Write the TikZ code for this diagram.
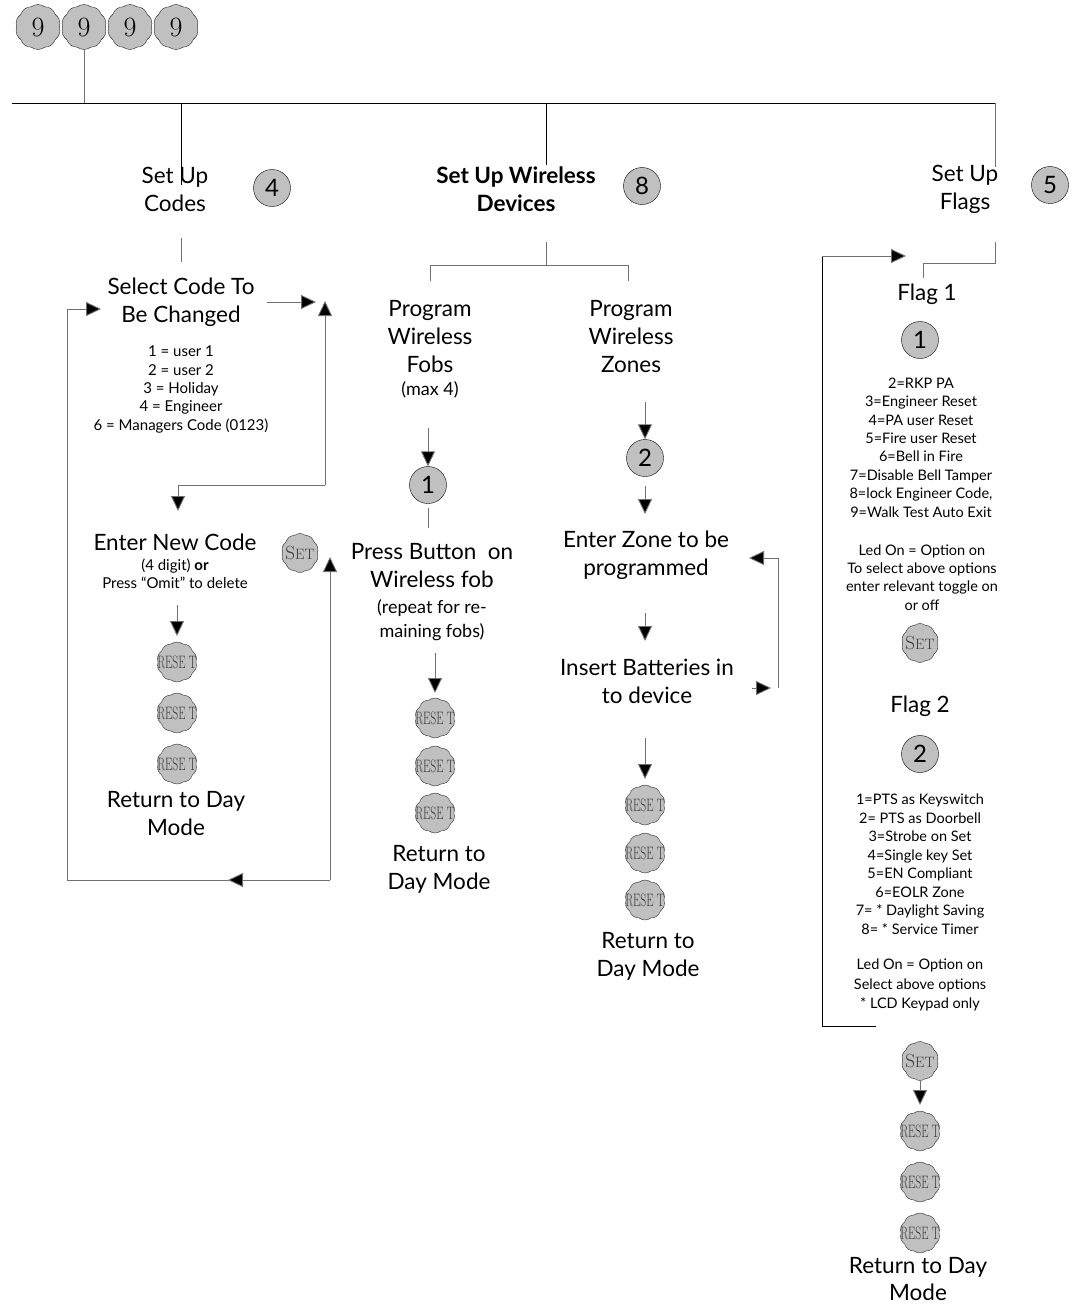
\documentclass[tikz,border=0pt]{standalone}
\usepackage{fontspec}
\usepackage{graphicx}
\setsansfont{Lato}
\usetikzlibrary{shapes.symbols,arrows.meta}
\definecolor{btngray}{HTML}{C0C0C0}
\definecolor{linegray}{HTML}{707070}
\definecolor{txtgray}{HTML}{3A3A3A}
\newcommand{\resettxt}{\makebox[0pt]{\color{txtgray}\scalebox{0.64}[1]{\fontsize{18}{18}\selectfont RESE T}}}
\newcommand{\settxt}{\makebox[0pt]{\color{txtgray}{\fontsize{19}{19}\selectfont S}{\fontsize{15}{15}\selectfont ET}}}
\begin{document}
\begin{tikzpicture}[x=1pt,y=-1pt,
  big/.style={font=\sffamily\fontsize{22.5}{28}\selectfont, align=center, inner sep=0},
  bigbold/.style={font=\sffamily\bfseries\fontsize{22.5}{28}\selectfont, align=center, inner sep=0},
  mid/.style={font=\sffamily\fontsize{18}{24}\selectfont, align=center, inner sep=0},
  small/.style={font=\sffamily\fontsize{15}{18.3}\selectfont, align=center, inner sep=0},
  flist/.style={font=\sffamily\fontsize{14.5}{18.4}\selectfont, align=center, inner sep=0},
  numc/.style={circle, draw=black, fill=btngray, minimum size=37pt, inner sep=0, font=\sffamily\fontsize{24}{24}\selectfont},
  bump/.style={cloud, cloud puffs=10, cloud puff arc=75, aspect=1, draw=black!85, fill=btngray, inner sep=0, minimum width=40pt, minimum height=40pt, font=\rmfamily},
  keyb/.style={bump, minimum width=45pt, minimum height=45pt, font=\rmfamily\fontsize{28}{28}\selectfont},
  setb/.style={bump, minimum width=37pt, minimum height=39pt},
  ln/.style={draw=black, line width=0.9pt},
  gl/.style={draw=linegray, line width=0.9pt},
  arr/.style={draw=linegray, line width=0.9pt, -{Triangle[length=15pt,width=14pt,fill=black]}}
]
\useasboundingbox (0,0) rectangle (1080,1306);

% ---------- top keys ----------
\node[keyb] (k1) at (38,27) {9};
\node[keyb] (k2) at (84,27) {9};
\node[keyb] (k3) at (130,27) {9};
\node[keyb] (k4) at (176,27) {9};
\coordinate (busL) at (12,103);
\coordinate (busR) at (995,103);
\draw[ln] (busL) -- (busR);
\draw[gl] (k2.south) -- (k2.south |- busL);

% ---------- headers ----------
\node[big] (codes) at (175,189) {Set Up\\Codes};
\node[numc] (n4) at (272,188) {4};
\node[bigbold] (wireless) at (516,189) {Set Up Wireless\\Devices};
\node[numc] (n8) at (642,186) {8};
\node[big] (flags) at (965,189) {Set Up\\Flags};
\node[numc] (n5) at (1050,185) {5};
\coordinate (dA) at (181,185);
\coordinate (dB) at (546,165);
\coordinate (dC) at (995,167);
\draw[ln] (dA |- busL) -- (dA);
\draw[ln] (dB |- busL) -- (dB);
\draw[gl] (busR) -- (dC);

% ---------- codes column ----------
\coordinate (cs1) at (181,238);
\coordinate (cs2) at (181,262);
\draw[gl] (cs1) -- (cs2);
\node[big] (selcode) at (181,302) {Select Code To\\Be Changed};
\node[small] (codelist) at (181,389.5) {1 = user 1\\2 = user 2\\3 = Holiday\\4 = Engineer\\6 = Managers Code (0123)};
\coordinate (ra1) at (267,302);
\coordinate (ra2) at (316,302);
\draw[arr] (ra1) -- (ra2);
\coordinate (up1) at (325,485);
\coordinate (up2) at (325,301);
\draw[arr] (up1) -- (up2);
\coordinate (lp1) at (178,485);
\coordinate (lp2) at (178,511);
\draw[gl] (up1) -- (lp1);
\draw[arr] (lp1) -- (lp2);
\node[big] (enter) at (175,542) {Enter New Code};
\node[small] (enter2) at (175,574) {(4 digit) \textbf{or}\\Press “Omit” to delete};
\node[setb] (set1) at (300,553) {\settxt};
\coordinate (bl) at (67,880);
\coordinate (br) at (330,880);
\coordinate (tl) at (67,309);
\coordinate (tla) at (101,309);
\coordinate (midb) at (228,880);
\coordinate (rup) at (330,557);
\draw[gl] (br) -- (bl) -- (tl);
\draw[arr] (tl) -- (tla);
\draw[arr] (br) -- (midb);
\draw[arr] (br) -- (rup);
\coordinate (ea1) at (177,605);
\draw[arr] (ea1) -- (177,636);
\node[bump] (r1a) at (177,662) {\resettxt};
\node[bump] (r1b) at (177,713) {\resettxt};
\node[bump] (r1c) at (177,764) {\resettxt};
\node[big] (ret1) at (176,814) {Return to Day\\Mode};

% ---------- wireless ----------
\coordinate (w1) at (546,242);
\coordinate (w2) at (546,265);
\coordinate (wl) at (430,265);
\coordinate (wr) at (628,265);
\draw[gl] (w1) -- (w2);
\draw[gl] (wl |- w2) -- (wr);
\draw[gl] (wl) -- (430,281);
\draw[gl] (wr) -- (628,281);

% fobs
\node[big] (fobs) at (430,337) {Program\\Wireless\\Fobs};
\node[mid] (max4) at (430,390) {(max 4)};
\coordinate (fa1) at (428,428);
\node[numc] (f1) at (428,485) {1};
\draw[arr] (fa1) -- (f1.north);
\coordinate (fl2) at (428,528);
\draw[gl] (f1.south) ++(0,4) -- (fl2);
\node[big] (press1) at (432,566) {Press Button\ \ on\\Wireless fob};
\node[mid] (press2) at (432,620) {(repeat for re-\\maining fobs)};
\coordinate (fa2) at (435,653);
\draw[arr] (fa2) -- (435,693);
\node[bump] (r2a) at (435,718) {\resettxt};
\node[bump] (r2b) at (435,766) {\resettxt};
\node[bump] (r2c) at (435,813) {\resettxt};
\node[big] (ret2) at (439,869) {Return to\\Day Mode};

% zones
\node[big] (zones) at (631,337) {Program\\Wireless\\Zones};
\coordinate (za1) at (645,402);
\node[numc] (z2) at (645,458) {2};
\draw[arr] (za1) -- (z2.north);
\coordinate (za2) at (645,486);
\draw[arr] (za2) -- (645,514);
\node[big] (enterzone) at (646,555) {Enter Zone to be\\programmed};
\coordinate (za3) at (645,613);
\draw[arr] (za3) -- (645,641);
\node[big] (insert) at (647,681) {Insert Batteries in\\to device};
\coordinate (zl1) at (752,688);
\coordinate (zl2) at (771,688);
\coordinate (zl3) at (778,688);
\coordinate (zl4) at (778,558);
\coordinate (zl5) at (749,558);
\draw[arr] (zl1) -- (zl2);
\draw[gl] (zl3) -- (zl4);
\draw[arr] (zl4) -- (zl5);
\coordinate (za4) at (645,738);
\draw[arr] (za4) -- (645,779);
\node[bump] (r3a) at (645,805) {\resettxt};
\node[bump] (r3b) at (645,853) {\resettxt};
\node[bump] (r3c) at (645,900) {\resettxt};
\node[big] (ret3) at (648,956) {Return to\\Day Mode};

% ---------- flags column ----------
\coordinate (fs1) at (995,242);
\coordinate (fs2) at (995,263);
\coordinate (fs3) at (923,263);
\coordinate (fs4) at (923,278);
\draw[gl] (fs1) -- (fs2) -- (fs3) -- (fs4);
\coordinate (fb1) at (876,1026);
\coordinate (fb2) at (822,1026);
\coordinate (fb3) at (822,256);
\coordinate (fb4) at (906,256);
\draw[ln] (fb1) -- (fb2) -- (fb3);
\draw[arr] (fb3) -- (fb4);
\node[big] (flag1) at (927,294) {Flag 1};
\node[numc] (g1) at (920,340) {1};
\node[flist] (list1) at (921,447.5) {2=RKP PA\\3=Engineer Reset\\4=PA user Reset\\5=Fire user Reset\\6=Bell in Fire\\7=Disable Bell Tamper\\8=lock Engineer Code,\\9=Walk Test Auto Exit};
\node[flist] (led1) at (922,577.5) {Led On = Option on\\To select above options\\enter relevant toggle on\\or off};
\node[setb] (set2) at (920,643) {\settxt};
\node[big] (flag2) at (920,706) {Flag 2};
\node[numc] (g2) at (920,754) {2};
\node[flist, font=\sffamily\fontsize{14.5}{18.5}\selectfont] (list2) at (920,864) {1=PTS as Keyswitch\\2= PTS as Doorbell\\3=Strobe on Set\\4=Single key Set\\5=EN Compliant\\6=EOLR Zone\\7= * Daylight Saving\\8= * Service Timer};
\node[flist, font=\sffamily\fontsize{14.5}{19.5}\selectfont] (led2) at (920,985) {Led On = Option on\\Select above options\\* LCD Keypad only};
\node[setb] (set3) at (920,1061) {\settxt};
\coordinate (ga) at (920,1105);
\draw[arr] (set3.south) -- (ga);
\node[bump] (r4a) at (920,1131) {\resettxt};
\node[bump] (r4b) at (920,1182) {\resettxt};
\node[bump] (r4c) at (920,1233) {\resettxt};
\node[big, font=\sffamily\fontsize{22.5}{27}\selectfont] (ret4) at (918,1279) {Return to Day\\Mode};
\end{tikzpicture}
\end{document}
